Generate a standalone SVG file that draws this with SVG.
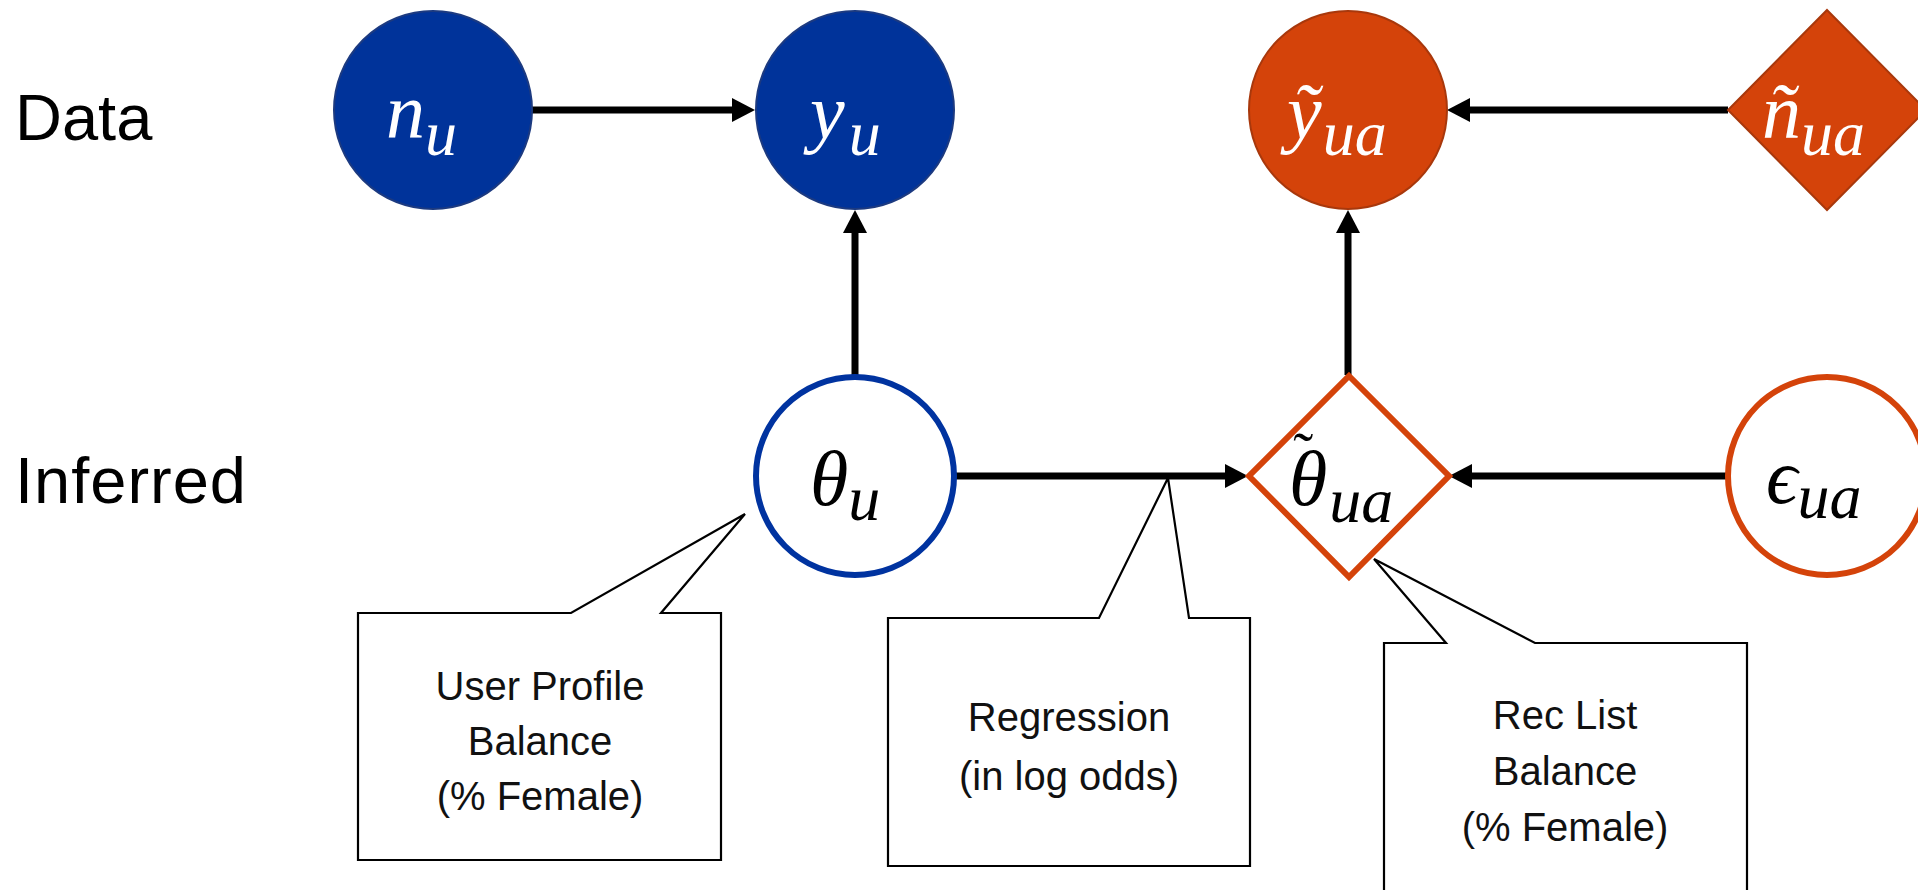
<svg xmlns="http://www.w3.org/2000/svg" width="1918" height="890" viewBox="0 0 1918 890">
<style>
.lbl{font-family:"Liberation Sans",Arial,sans-serif;font-size:65px;fill:#000}
.math{font-family:"Liberation Serif","DejaVu Serif",serif;font-style:italic;font-size:78px}
.sub{font-size:64px}
.tl{font-size:60px;font-style:normal}
.w{fill:#fff}
.k{fill:#000}
.blueF{fill:#00339A;stroke:#1C3A80;stroke-width:2}
.orF{fill:#D4430A;stroke:#A8380C;stroke-width:2}
.blueO{fill:#fff;stroke:#0033A0;stroke-width:6}
.orO{fill:#fff;stroke:#D4430A;stroke-width:6}
.call{fill:#fff;stroke:#000;stroke-width:2.2;stroke-linejoin:miter}
.ct{font-family:"Liberation Sans",Arial,sans-serif;font-size:40px;fill:#111;text-anchor:middle}
.edge{stroke:#000;stroke-width:7;fill:none}
</style>
<defs>
<marker id="ah" markerUnits="userSpaceOnUse" markerWidth="24" markerHeight="24" refX="0" refY="12" orient="auto">
<path d="M0,0 L23,12 L0,24 z" fill="#000"/>
</marker>
</defs>
<rect width="1918" height="890" fill="#fff"/>
<text class="lbl" x="15" y="140">Data</text>
<text class="lbl" x="15" y="503" textLength="231" lengthAdjust="spacing">Inferred</text>

<g id="callout-user">
<path class="call" d="M358,613 L571,613 L745,514 L661,613 L721,613 L721,860 L358,860 Z"/>
<text class="ct" x="540" y="700">User Profile</text>
<text class="ct" x="540" y="755">Balance</text>
<text class="ct" x="540" y="810">(% Female)</text>
</g>
<g id="callout-regression">
<path class="call" d="M888,618 L1099,618 L1168,478 L1189,618 L1250,618 L1250,866 L888,866 Z"/>
<text class="ct" x="1069" y="731">Regression</text>
<text class="ct" x="1069" y="790">(in log odds)</text>
</g>
<g id="callout-rec">
<path class="call" d="M1384,643 L1446,643 L1374,559 L1535,643 L1747,643 L1747,900 L1384,900 Z"/>
<text class="ct" x="1565" y="729">Rec List</text>
<text class="ct" x="1565" y="785">Balance</text>
<text class="ct" x="1565" y="841">(% Female)</text>
</g>

<g id="connectors">
<line class="edge" x1="532" y1="110" x2="732" y2="110" marker-end="url(#ah)"/>
<line class="edge" x1="855" y1="376" x2="855" y2="233" marker-end="url(#ah)"/>
<line class="edge" x1="1728" y1="110" x2="1470" y2="110" marker-end="url(#ah)"/>
<line class="edge" x1="1348" y1="375" x2="1348" y2="233" marker-end="url(#ah)"/>
<line class="edge" x1="956" y1="476" x2="1225" y2="476" marker-end="url(#ah)"/>
<line class="edge" x1="1727" y1="476" x2="1472" y2="476" marker-end="url(#ah)"/>
</g>

<g id="n_u">
<circle class="blueF" cx="433" cy="110" r="99"/>
<text class="math w" x="386" y="138">n<tspan class="sub" dy="17">u</tspan></text>
</g>
<g id="y_u">
<circle class="blueF" cx="855" cy="110" r="99"/>
<text class="math w" x="810" y="138">y<tspan class="sub" dx="4" dy="17">u</tspan></text>
</g>
<g id="y_tilde_ua">
<circle class="orF" cx="1348" cy="110" r="99"/>
<text class="math w" x="1287" y="138">ỹ<tspan class="sub" dx="1" dy="17">ua</tspan></text>
</g>
<g id="n_tilde_ua">
<polygon class="orF" points="1827,10 1926,110 1827,210 1728,110"/>
<text class="math w" x="1762" y="138">ñ<tspan class="sub" dy="17">ua</tspan></text>
</g>
<g id="theta_u">
<circle class="blueO" cx="855" cy="476" r="99"/>
<text class="math k" x="810" y="505">θ<tspan class="sub" dy="15">u</tspan></text>
</g>
<g id="theta_tilde_ua">
<polygon class="orO" points="1349,376 1449,476 1349,577 1249,476"/>
<text class="math k" x="1289" y="505">θ<tspan class="tl" dx="-34" dy="-32">˜</tspan><tspan class="sub" dx="16" dy="49">ua</tspan></text>
</g>
<g id="epsilon_ua">
<circle class="orO" cx="1827" cy="476" r="99"/>
<text class="math k" x="1766" y="503">ϵ<tspan class="sub" dy="15">ua</tspan></text>
</g>
</svg>
